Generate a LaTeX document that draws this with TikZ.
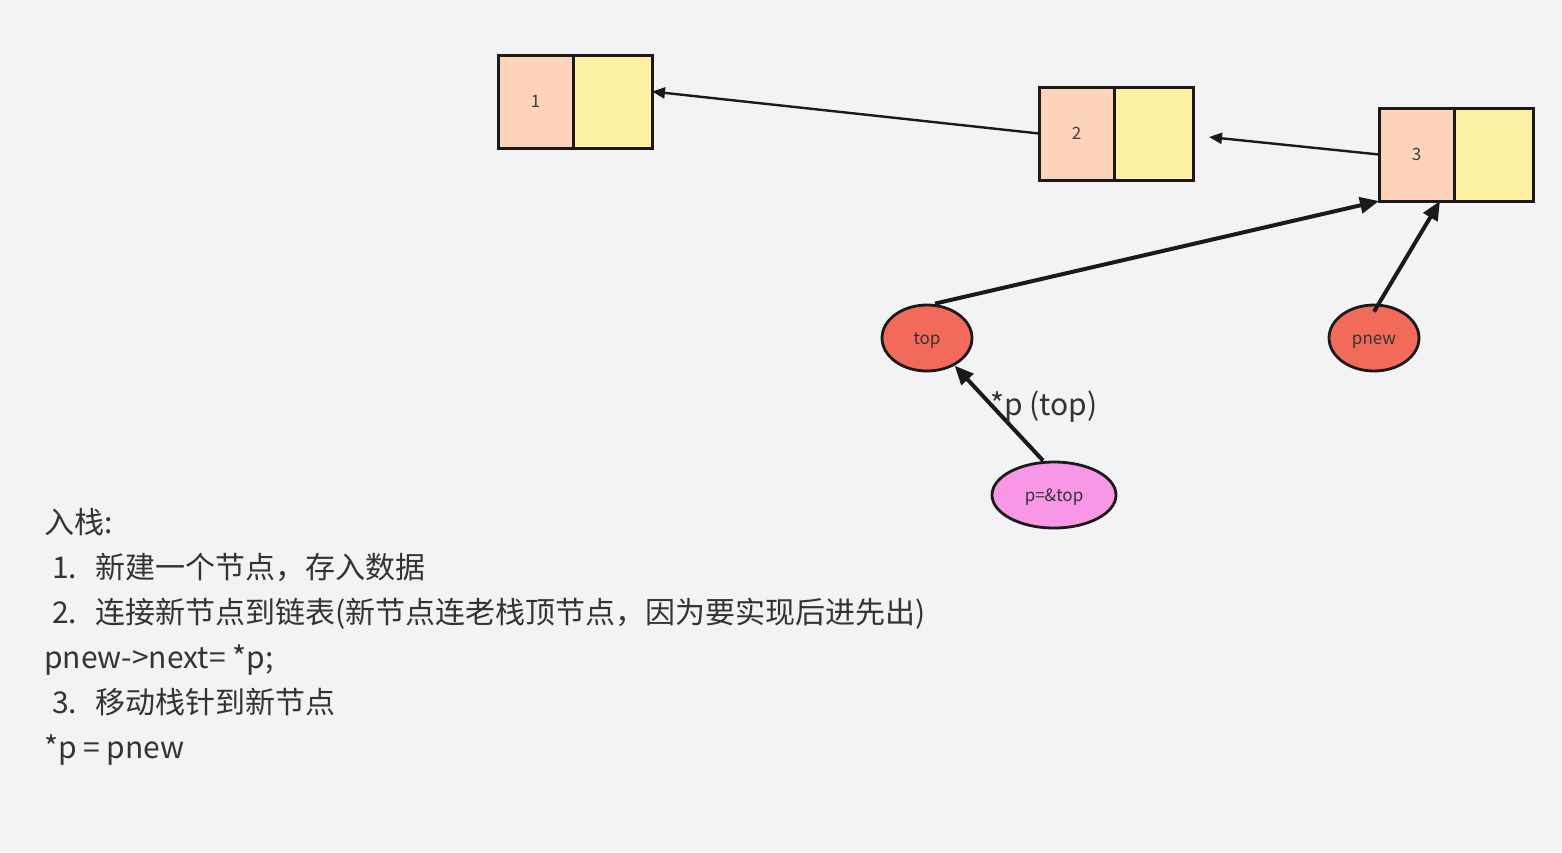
\documentclass[tikz,border=0pt]{standalone}
\usepackage{fontspec}
\setmainfont{Noto Sans CJK SC}
\usepackage{tikz}
\usetikzlibrary{arrows.meta, positioning, shapes.geometric, calc}
\definecolor{canvasgrey}{HTML}{F3F3F5}
\definecolor{cellpeach}{HTML}{FDD3BA}
\definecolor{cellyellow}{HTML}{FFF1A4}
\definecolor{ptrred}{HTML}{F26A59}
\definecolor{ptrpink}{HTML}{F797E5}
\definecolor{inkdark}{HTML}{1A1A1A}
\tikzset{
  datacell/.style={draw=inkdark, fill=cellpeach, line width=3pt, minimum width=75pt, minimum height=93pt, inner sep=0pt, outer sep=0pt, font=\fontsize{17}{19}\selectfont, text=black!75},
  nextcell/.style={draw=inkdark, fill=cellyellow, line width=3pt, minimum width=79pt, minimum height=93pt, inner sep=0pt, outer sep=0pt},
  ptrnode/.style={ellipse, draw=inkdark, line width=2.8pt, minimum width=#1, minimum height=66pt, inner sep=0pt, text height=12pt, text depth=0pt, font=\fontsize{17}{19}\selectfont, text=black!80},
  linkarrow/.style={draw=inkdark, line width=2.4pt, -{Triangle[length=13pt, width=11pt]}},
  ptrarrow/.style={draw=inkdark, line width=4pt, -{Triangle[length=19pt, width=16pt]}},
  steptext/.style={font=\fontsize{30}{33}\selectfont, text=black!80, inner sep=0pt, anchor=base west}
}
\newcommand{\stacknode}[4]{%
  \node[datacell] (#1data) at (#2,#3) {#4};
  \node[nextcell, right=0pt of #1data] (#1next) {};%
}
\newcommand{\stepitem}[2]{\hspace*{8pt}\makebox[43pt][l]{#1.}#2}

\begin{document}
\begin{tikzpicture}[x=1pt, y=-1pt]
    % canvas
    \fill[canvasgrey] (0,0) rectangle (1562,852);
    \useasboundingbox (0,0) rectangle (1562,852);

    % linked list: three nodes
    \stacknode{n1}{535.5}{101.5}{1}
    \stacknode{n2}{1076.5}{133.5}{2}
    \stacknode{n3}{1416.5}{154.5}{3}
    \coordinate (n3free) at (1209,137);

    \draw[linkarrow] (n2data.west) -- ([yshift=10pt]n1next.east);
    \draw[linkarrow] (n3data.west) -- (n3free);

    % stack pointers
    \node[ptrnode=90pt, fill=ptrred] (top) at (927,338) {top};
    \node[ptrnode=90pt, fill=ptrred] (pnew) at (1374,338) {pnew};
    \node[ptrnode=124pt, fill=ptrpink] (ptop) at (1054,495) {p=\&top};

    \draw[ptrarrow] ([xshift=8pt]top.north) -- (n3data.south west);
    \draw[ptrarrow] ([yshift=-8pt]pnew.north) -- ([xshift=-14pt]n3data.south east);
    \draw[ptrarrow] ([xshift=-11pt]ptop.north) -- (top.-45);
    \node[font=\fontsize{30}{33}\selectfont, text=black!80, inner sep=0pt] (starp) at (1044,407) {*p (top)};

    % steps
    \foreach \txt [count=\i] in {
      {入栈:},
      {\stepitem{1}{新建一个节点，存入数据}},
      {\stepitem{2}{连接新节点到链表(新节点连老栈顶节点，因为要实现后进先出)}},
      {pnew->next= *p;},
      {\stepitem{3}{移动栈针到新节点}},
      {*p = pnew}} {
      \node[steptext] (line\i) at (44,488+45*\i) {\txt};
    }
\end{tikzpicture}
\end{document}
